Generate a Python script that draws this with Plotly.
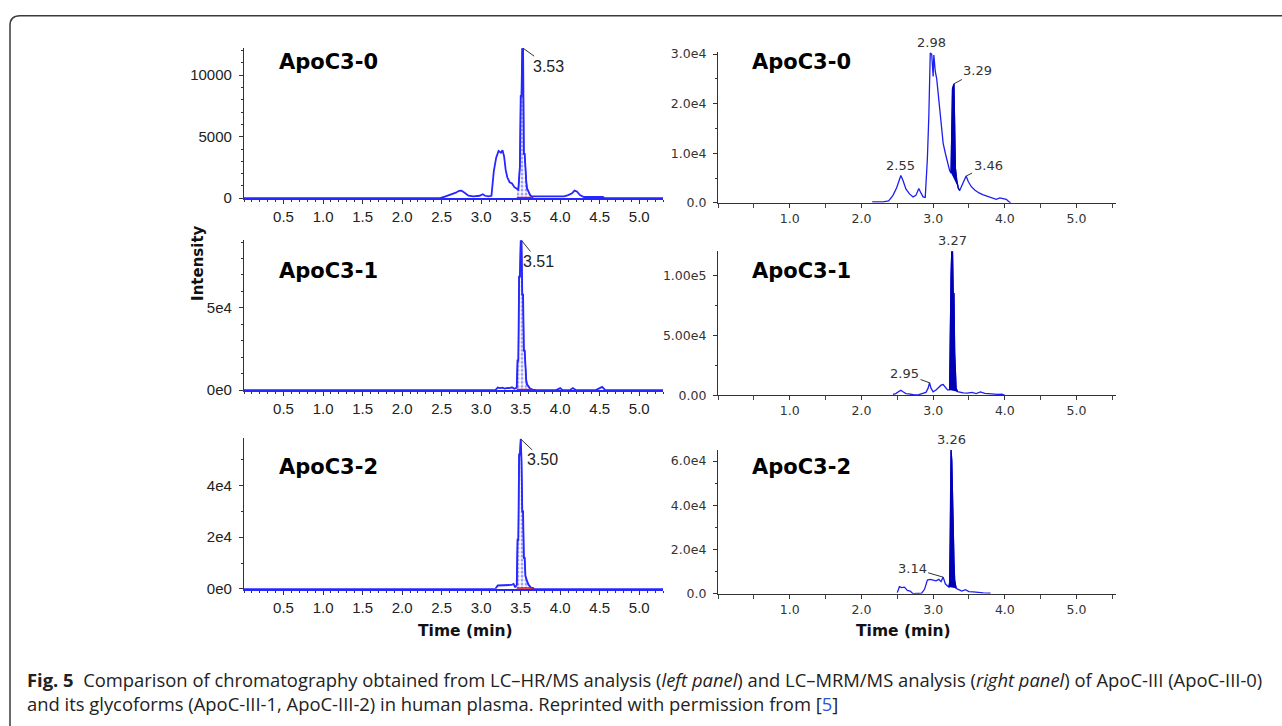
import numpy as np
import plotly.graph_objects as go

# ---------------- data ----------------
# Left column: LC-HR/MS (time in min, intensity)
lt_t = [0.00, 2.48, 2.55, 2.62, 2.68, 2.72, 2.75, 2.79, 2.84, 2.90, 2.98, 3.02, 3.05, 3.09, 3.13, 3.16, 3.19, 3.22, 3.25, 3.27,
        3.29, 3.31, 3.33, 3.36, 3.39, 3.42, 3.45, 3.47, 3.49, 3.50, 3.51, 3.52, 3.53, 3.54, 3.55, 3.56, 3.57, 3.58, 3.60, 3.62,
        3.64, 3.68, 3.75, 3.85, 3.95, 4.05, 4.10, 4.15, 4.18, 4.21, 4.25, 4.30, 4.40, 4.54, 4.56, 5.30]
lt_i = [0, 0, 150, 300, 450, 600, 620, 450, 200, 150, 200, 320, 200, 150, 200, 2200, 3300, 3850, 3700, 3900,
        3400, 2300, 1700, 1300, 1200, 900, 750, 700, 2600, 8300, 8300, 12200, 12200, 3600, 3600, 2000, 1400, 800, 450, 250,
        150, 150, 120, 100, 100, 150, 250, 400, 620, 550, 250, 100, 100, 100, 0, 0]

lm_t = [0.00, 3.18, 3.21, 3.24, 3.27, 3.30, 3.33, 3.36, 3.39, 3.42, 3.45, 3.46, 3.47, 3.48, 3.49, 3.50, 3.51, 3.52, 3.53, 3.54,
        3.55, 3.56, 3.57, 3.58, 3.60, 3.62, 3.65, 3.70, 3.95, 4.00, 4.03, 4.12, 4.16, 4.20, 4.45, 4.50, 4.53, 4.57, 5.30]
lm_i = [0, 0, 1600, 1200, 1500, 1000, 1400, 1200, 1700, 800, 1500, 18000, 18000, 69000, 69000, 91000, 91000, 58000, 58000, 24000,
        24000, 10000, 6000, 3500, 2000, 800, 300, 0, 0, 1200, 0, 0, 1300, 0, 0, 1500, 2000, 0, 0]

lb_t = [0.00, 3.18, 3.21, 3.30, 3.38, 3.41, 3.43, 3.45, 3.46, 3.47, 3.48, 3.49, 3.50, 3.51, 3.52, 3.53, 3.54, 3.55, 3.56, 3.58,
        3.60, 3.63, 3.67, 5.30]
lb_i = [0, 0, 1300, 1400, 1500, 1900, 600, 1500, 19000, 19000, 52000, 52000, 58000, 50000, 30000, 30000, 12000, 12000, 5000, 3000,
        1500, 500, 0, 0]

# Right column: LC-MRM/MS
rt_t = [2.15, 2.30, 2.38, 2.44, 2.49, 2.53, 2.55, 2.58, 2.62, 2.67, 2.72, 2.76, 2.80, 2.83, 2.86, 2.89, 2.92, 2.94, 2.96, 2.98,
        3.00, 3.01, 3.03, 3.05, 3.07, 3.09, 3.11, 3.14, 3.17, 3.20, 3.23, 3.25, 3.27, 3.29, 3.30, 3.31, 3.33, 3.35, 3.37, 3.40,
        3.43, 3.46, 3.49, 3.53, 3.58, 3.64, 3.70, 3.76, 3.82, 3.88, 3.93, 3.98, 4.02, 4.05, 4.08]
rt_i = [200, 200, 400, 1500, 3000, 4800, 5500, 4500, 2800, 1800, 1200, 1500, 2900, 2000, 1200, 1100, 9000, 17500, 30200, 30000,
        25500, 29800, 26500, 25000, 22000, 18000, 15000, 12000, 10000, 8000, 6500, 6000, 23000, 24000, 14000, 7000, 4500, 3000, 2500, 3500,
        4500, 5400, 4300, 3300, 2600, 2000, 1600, 1300, 900, 700, 1000, 800, 700, 300, 0]

rm_t = [2.44, 2.48, 2.52, 2.55, 2.58, 2.62, 2.66, 2.70, 2.74, 2.80, 2.85, 2.90, 2.93, 2.95, 2.97, 3.00, 3.04, 3.08, 3.11, 3.14,
        3.17, 3.20, 3.23, 3.24, 3.25, 3.26, 3.27, 3.28, 3.29, 3.30, 3.31, 3.32, 3.34, 3.37, 3.42, 3.48, 3.54, 3.60, 3.66, 3.72,
        3.78, 3.84, 3.90, 3.96, 4.00]
rm_i = [800, 1500, 3200, 4200, 3000, 1500, 1200, 600, 300, 600, 1500, 2500, 6000, 10500, 6000, 3000, 4500, 7000, 8500, 9000,
        6500, 4500, 4500, 65000, 100000, 120500, 120000, 85000, 85000, 36000, 15000, 6000, 3000, 2500, 2000, 1800, 2500, 1500, 2800, 1700,
        1200, 1000, 800, 1000, 0]

rb_t = [2.50, 2.53, 2.56, 2.60, 2.64, 2.68, 2.72, 2.78, 2.84, 2.88, 2.92, 2.96, 3.00, 3.04, 3.08, 3.11, 3.14, 3.17, 3.20, 3.22,
        3.23, 3.24, 3.25, 3.26, 3.27, 3.28, 3.29, 3.30, 3.32, 3.35, 3.40, 3.45, 3.50, 3.56, 3.62, 3.70, 3.80]
rb_i = [500, 3200, 2800, 3000, 1500, 1200, 0, 200, 300, 2000, 6200, 6500, 6000, 5800, 6500, 5500, 7500, 4500, 3500, 3000,
        5000, 25000, 65000, 60000, 37000, 37000, 15000, 6000, 2500, 2000, 1200, 1800, 1000, 800, 500, 400, 300]

# integrated peak windows (start, end) in min
lt_win = (3.45, 3.66)
lm_win = (3.45, 3.65)
lb_win = (3.45, 3.67)
rt_win = (3.25, 3.37)
rm_win = (3.23, 3.34)
rb_win = (3.22, 3.32)

# labelled peaks (time, intensity)
lt_peaks = ([3.53], [12200])
lm_peaks = ([3.51], [91000])
lb_peaks = ([3.50], [58000])
rt_peaks = ([2.55, 2.98, 3.29, 3.46], [5500, 30200, 24000, 5400])
rm_peaks = ([3.27, 2.95], [120500, 10500])
rb_peaks = ([3.26, 3.14], [65000, 7500])

panel_names = ["ApoC3-0", "ApoC3-1", "ApoC3-2"]

# y tick values / labels
lt_yt = ([0, 5000, 10000], ["0", "5000", "10000"])
lm_yt = ([0, 50000], ["0e0", "5e4"])
lb_yt = ([0, 20000, 40000], ["0e0", "2e4", "4e4"])
rt_yt = ([0, 10000, 20000, 30000], ["0.0", "1.0e4", "2.0e4", "3.0e4"])
rm_yt = ([0, 50000, 100000], ["0.00", "5.00e4", "1.00e5"])
rb_yt = ([0, 20000, 40000, 60000], ["0.0", "2.0e4", "4.0e4", "6.0e4"])

left_xt = [0.5, 1.0, 1.5, 2.0, 2.5, 3.0, 3.5, 4.0, 4.5, 5.0]
right_xt = [1.0, 2.0, 3.0, 4.0, 5.0]

# ---------------- layout helpers ----------------
W, H = 1282, 726
def fx(p):
    return p / W
def fy(p):
    return 1 - p / H

BLUE_L = "#2626ff"
BLUE_R = "#1e1ef0"
FILL_R = "#0000b4"

# (x0px, x1px, ytop_px, ybottom_px, xrange_max, ymax, yticks, yminor)
geo = {
    "lt": (244, 663, 43, 196, 5.3, 12200, lt_yt, 1000),
    "lm": (244, 663, 239, 391.7, 5.3, 91000, lm_yt, 10000),
    "lb": (244, 663, 440.7, 594.3, 5.3, 58300, lb_yt, 10000),
    "rt": (718, 1116, 47, 200.7, 5.55, 30400, rt_yt, 5000),
    "rm": (718, 1116, 250, 397, 5.55, 120500, rm_yt, 25000),
    "rb": (718, 1116, 452.7, 599.3, 5.55, 65000, rb_yt, 10000),
}
order = ["lt", "lm", "lb", "rt", "rm", "rb"]
series = {
    "lt": (lt_t, lt_i, lt_win, lt_peaks),
    "lm": (lm_t, lm_i, lm_win, lm_peaks),
    "lb": (lb_t, lb_i, lb_win, lb_peaks),
    "rt": (rt_t, rt_i, rt_win, rt_peaks),
    "rm": (rm_t, rm_i, rm_win, rm_peaks),
    "rb": (rb_t, rb_i, rb_win, rb_peaks),
}
# label offsets (pixels) per peak: (ax, ay, arrow)
label_style = {
    "lt": [(25, 18, True)],
    "lm": [(17, 21, True)],
    "lb": [(22, 21, True)],
    "rt": [(0, -10, False), (0, -11, False), (24, -13, True), (22, -11, True)],
    "rm": [(0, -10, False), (-25, -9, True)],
    "rb": [(0, -11, False), (-31, -9, True)],
}

fig = go.Figure()
layout = {}
annotations = []

for k, key in enumerate(order):
    n = k + 1
    xa = "x" if n == 1 else f"x{n}"
    ya = "y" if n == 1 else f"y{n}"
    x0, x1, yt, yb, xmax, ymax, yticks, yminor = geo[key]
    t, inten, win, peaks = series[key]
    t = np.array(t, dtype=float)
    inten = np.array(inten, dtype=float)
    left = key.startswith("l")

    mask = (t >= win[0] - 1e-9) & (t <= win[1] + 1e-9)
    if left:
        fig.add_trace(go.Scatter(
            x=t[mask], y=inten[mask], xaxis=xa, yaxis=ya, mode="lines",
            fill="tozeroy", fillcolor="rgba(0,0,0,0)",
            fillpattern=dict(shape=".", fgcolor="#3a3aff", bgcolor="white", size=4, solidity=0.4),
            line=dict(color=BLUE_L, width=1.2), hoverinfo="skip"))
        fig.add_trace(go.Scatter(
            x=t, y=inten, xaxis=xa, yaxis=ya, mode="lines",
            line=dict(color=BLUE_L, width=1.8), hoverinfo="skip"))
        # red integration baseline
        fig.add_trace(go.Scatter(
            x=[win[0], win[1]], y=[0, 0], xaxis=xa, yaxis=ya, mode="lines",
            line=dict(color="#e01010", width=3), hoverinfo="skip"))
    else:
        fig.add_trace(go.Scatter(
            x=t, y=inten, xaxis=xa, yaxis=ya, mode="lines",
            line=dict(color=BLUE_R, width=1.3), hoverinfo="skip"))
        fig.add_trace(go.Scatter(
            x=t[mask], y=inten[mask], xaxis=xa, yaxis=ya, mode="lines",
            fill="toself", fillcolor=FILL_R,
            line=dict(color=FILL_R, width=1.2), hoverinfo="skip"))

    tick_font = dict(family="Liberation Sans, Arial", size=15, color="#222") if left else \
        dict(family="DejaVu Sans", size=12.5, color="#333")
    xkey = "xaxis" if n == 1 else f"xaxis{n}"
    ykey = "yaxis" if n == 1 else f"yaxis{n}"
    if left:
        xt = left_xt
        xtt = [f"{v:.1f}" for v in left_xt]
        xminor = dict(dtick=0.1, tick0=0, ticklen=2, tickcolor="#333", ticks="outside")
        xline = dict(linecolor=BLUE_L, linewidth=2.2)
    else:
        xt = right_xt
        xtt = [f"{v:.1f}" for v in right_xt]
        xminor = dict(dtick=0.5, tick0=0, ticklen=4, tickcolor="#444", ticks="outside")
        xline = dict(linecolor="#333", linewidth=1.2)
    layout[xkey] = dict(
        domain=[fx(x0), fx(x1)], range=[0, xmax], anchor=ya,
        showgrid=False, zeroline=False, showline=True, **xline,
        ticks="outside", ticklen=4, tickcolor="#333", tickvals=xt, ticktext=xtt,
        tickfont=tick_font, minor=xminor, fixedrange=True)
    layout[ykey] = dict(
        domain=[fy(yb), fy(yt)], range=[0, ymax], anchor=xa,
        showgrid=False, zeroline=False, showline=True, linecolor="#333", linewidth=1.2,
        ticks="outside", ticklen=4, tickcolor="#333",
        tickvals=yticks[0], ticktext=yticks[1], tickfont=tick_font,
        minor=dict(dtick=yminor, tick0=0, ticklen=2, tickcolor="#333", ticks="outside"),
        ticklabelstandoff=4, fixedrange=True)

    # panel label
    row = k % 3
    lbl_x = 276.7 if left else 750
    lbl_y = [57, 270, 470][row]
    annotations.append(dict(
        x=fx(lbl_x), y=fy(lbl_y), xref="paper", yref="paper", xanchor="left", yanchor="middle",
        text=f"<b>{panel_names[row]}</b>", showarrow=False,
        font=dict(family="DejaVu Sans", size=21, color="black")))

    # peak labels
    pf = dict(family="Liberation Sans, Arial", size=16, color="#222") if left else \
        dict(family="DejaVu Sans", size=13, color="#333")
    for (pt, pi), (ax, ay, arrow) in zip(zip(peaks[0], peaks[1]), label_style[key]):
        if arrow:
            annotations.append(dict(
                x=pt, y=pi, xref=xa, yref=ya, text=f"{pt:.2f}", showarrow=True,
                ax=ax, ay=ay, arrowhead=0, arrowwidth=1, arrowcolor="#333",
                font=pf, standoff=0))
        else:
            annotations.append(dict(
                x=pt, y=pi, xref=xa, yref=ya, text=f"{pt:.2f}", showarrow=False,
                yanchor="bottom", yshift=1, font=pf))

# axis titles
annotations.append(dict(x=fx(187), y=fy(262), xref="paper", yref="paper", text="<b>Intensity</b>",
                        textangle=-90, showarrow=False,
                        font=dict(family="DejaVu Sans", size=15, color="#111")))
for cx in (465, 953):
    annotations.append(dict(x=fx(cx), y=fy(649), xref="paper", yref="paper", text="<b>Time (min)</b>",
                            showarrow=False, font=dict(family="DejaVu Sans", size=15.5, color="#111")))

# caption (single two-line block)
caption = ("<b>Fig. 5</b>  Comparison of chromatography obtained from LC–HR/MS analysis (<i>left panel</i>) "
           "and LC–MRM/MS analysis (<i>right panel</i>) of ApoC-III (ApoC-III-0)<br>"
           "and its glycoforms (ApoC-III-1, ApoC-III-2) in human plasma. Reprinted with permission from "
           "[<span style='color:#2a55d5'>5</span>]")
annotations.append(dict(x=fx(25), y=fy(699), xref="paper", yref="paper", xanchor="left", yanchor="middle",
                        align="left", text=caption, showarrow=False,
                        font=dict(family="Open Sans", size=18.4, color="#222")))

# figure frame (rounded top-left corner)
r = 10
path = (f"M {fx(10)},{fy(740)} L {fx(10)},{fy(10 + r)} "
        f"Q {fx(10)},{fy(10)} {fx(10 + r)},{fy(10)} L {fx(1300)},{fy(10)}")
shapes = [dict(type="path", xref="paper", yref="paper", path=path,
               line=dict(color="#3a3a3a", width=1.5))]

fig.update_layout(
    width=W, height=H, margin=dict(l=0, r=0, t=0, b=0),
    paper_bgcolor="white", plot_bgcolor="white", showlegend=False,
    annotations=annotations, shapes=shapes, **layout)

fig.write_html("out.html", config={"displayModeBar": False},
               post_script="document.body.style.margin='0';")
